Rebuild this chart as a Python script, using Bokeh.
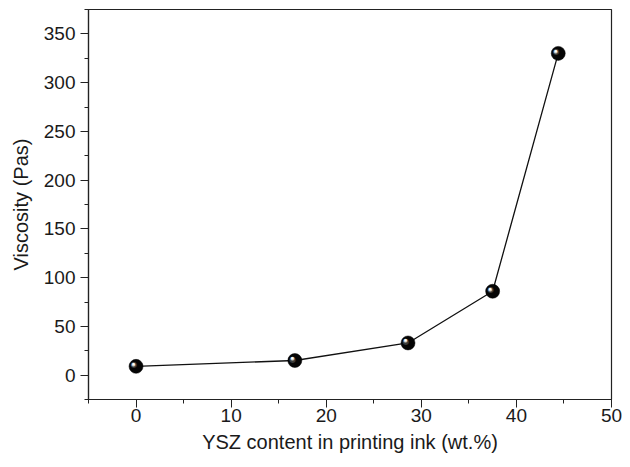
from bokeh.plotting import figure
from bokeh.models import Range1d, SingleIntervalTicker, ColumnDataSource
from bokeh.core.properties import value
from bokeh.embed import file_html
from bokeh.resources import INLINE

# Data
ysz_content = [0.0, 16.7, 28.6, 37.5, 44.4]
viscosity = [9, 15, 33, 86, 330]
x_ticks = [0, 10, 20, 30, 40, 50]
y_ticks = [0, 50, 100, 150, 200, 250, 300, 350]

src = ColumnDataSource(data=dict(x=ysz_content, y=viscosity))

p = figure(width=630, height=467, output_backend="svg", toolbar_location=None,
           x_range=Range1d(-5, 50), y_range=Range1d(-25, 375),
           min_border_left=88, min_border_right=19, min_border_top=9, min_border_bottom=68)
p.background_fill_color = "white"
p.border_fill_color = "white"
p.outline_line_color = "#222222"
p.outline_line_width = 1.2
p.xgrid.visible = False
p.ygrid.visible = False

p.xaxis.ticker = SingleIntervalTicker(interval=10, num_minor_ticks=2)
p.yaxis.ticker = SingleIntervalTicker(interval=50, num_minor_ticks=2)

for ax in (p.xaxis, p.yaxis):
    ax.axis_line_color = "#222222"
    ax.axis_line_width = 1.2
    ax.major_tick_line_color = "#222222"
    ax.minor_tick_line_color = "#222222"
    ax.major_tick_in = 0
    ax.major_tick_out = 8
    ax.minor_tick_in = 0
    ax.minor_tick_out = 4
    ax.major_label_text_font = "Liberation Sans"
    ax.major_label_text_font_size = "19px"
    ax.major_label_text_color = "#1a1a1a"
    ax.axis_label_text_font = "Liberation Sans"
    ax.axis_label_text_font_size = "20px"
    ax.axis_label_text_font_style = "normal"
    ax.axis_label_text_color = "#1a1a1a"

p.xaxis.axis_label = "YSZ content in printing ink (wt.%)"
p.yaxis.axis_label = "Viscosity (Pas)"
p.xaxis.major_label_standoff = 1
p.xaxis.axis_label_standoff = 6
p.yaxis.major_label_standoff = 5
p.yaxis.axis_label_standoff = 9

# connecting line
p.line("x", "y", source=src, line_color="#111111", line_width=1.3)

# sphere-like markers
p.scatter("x", "y", source=src, marker="circle", size=14, fill_color="#050505",
          line_color="#000000", line_width=0.5)
p.text("x", "y", text=value("\u25cf"), source=src, x_offset=-2, y_offset=-1.5,
       text_font=value("DejaVu Sans"), text_font_size="8px", text_color="#3a3a3a",
       text_align="center", text_baseline="middle")
p.text("x", "y", text=value("\u25cf"), source=src, x_offset=-2.5, y_offset=-2.5,
       text_font=value("DejaVu Sans"), text_font_size="5px", text_color="#bfbfbf",
       text_align="center", text_baseline="middle")
p.text("x", "y", text=value("\u25cf"), source=src, x_offset=-2.5, y_offset=-3,
       text_font=value("DejaVu Sans"), text_font_size="3px", text_color="#ffffff",
       text_align="center", text_baseline="middle")

open("out.html", "w").write(file_html(p, INLINE))
